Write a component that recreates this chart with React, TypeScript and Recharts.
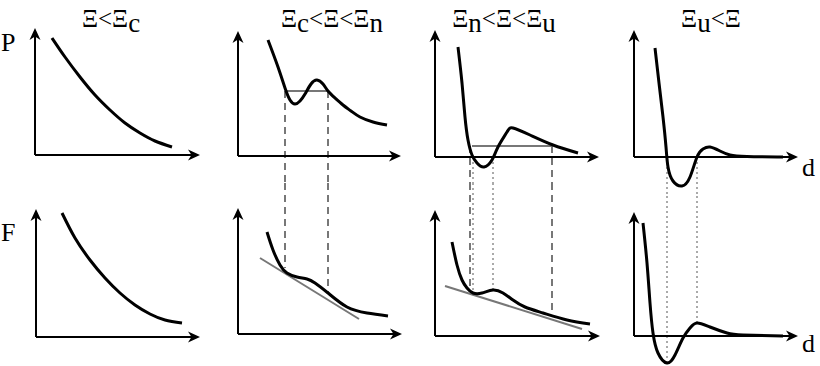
import { Line, LineChart, ReferenceDot, ReferenceLine, XAxis, YAxis } from "recharts";

type Pt = { x: number; y: number };
type Seg = { x1: number; y1: number; x2: number; y2: number };

// curves, 1 unit = 10px, origin at the axes crossing
const pLow: Pt[] = [
  { x: 1.7, y: 11.7 }, { x: 3.0, y: 9.8 }, { x: 4.5, y: 7.8 }, { x: 6.0, y: 6.0 },
  { x: 7.5, y: 4.5 }, { x: 9.0, y: 3.2 }, { x: 10.5, y: 2.2 }, { x: 12.0, y: 1.4 },
  { x: 13.7, y: 0.8 },
];
const fLow: Pt[] = [
  { x: 2.6, y: 12.4 }, { x: 3.9, y: 9.9 }, { x: 5.4, y: 7.7 }, { x: 6.9, y: 5.9 },
  { x: 8.4, y: 4.4 }, { x: 9.9, y: 3.2 }, { x: 11.4, y: 2.3 }, { x: 12.9, y: 1.7 },
  { x: 14.6, y: 1.4 },
];
const pCn: Pt[] = [
  { x: 3.0, y: 11.6 }, { x: 4.0, y: 8.9 }, { x: 4.7, y: 6.8 }, { x: 5.2, y: 5.6 },
  { x: 5.7, y: 5.2 }, { x: 6.2, y: 5.5 }, { x: 6.7, y: 6.2 }, { x: 7.3, y: 7.2 },
  { x: 7.9, y: 7.6 }, { x: 8.5, y: 7.2 }, { x: 9.0, y: 6.5 }, { x: 9.7, y: 5.8 },
  { x: 10.5, y: 5.1 }, { x: 11.3, y: 4.5 }, { x: 12.2, y: 3.9 }, { x: 13.5, y: 3.4 },
  { x: 14.9, y: 3.1 },
];
const fCn: Pt[] = [
  { x: 2.9, y: 10.2 }, { x: 3.5, y: 8.4 }, { x: 4.2, y: 6.9 }, { x: 4.9, y: 6.1 },
  { x: 5.9, y: 5.7 }, { x: 6.9, y: 5.5 }, { x: 7.7, y: 5.1 }, { x: 9.0, y: 4.1 },
  { x: 10.9, y: 2.7 }, { x: 12.9, y: 2.1 }, { x: 15.0, y: 1.8 },
];
const pNu: Pt[] = [
  { x: 2.3, y: 11.0 }, { x: 2.7, y: 7.4 }, { x: 3.0, y: 4.0 }, { x: 3.3, y: 1.7 },
  { x: 3.7, y: 0.2 }, { x: 4.2, y: -0.6 }, { x: 4.9, y: -1.0 }, { x: 5.7, y: -0.3 },
  { x: 6.3, y: 1.0 }, { x: 7.2, y: 2.5 }, { x: 7.8, y: 2.9 }, { x: 9.5, y: 2.2 },
  { x: 11.8, y: 1.2 }, { x: 14.3, y: 0.4 },
];
const fNu: Pt[] = [
  { x: 1.7, y: 9.4 }, { x: 2.2, y: 7.1 }, { x: 2.7, y: 5.6 }, { x: 3.2, y: 4.8 },
  { x: 3.8, y: 4.3 }, { x: 4.7, y: 4.3 }, { x: 5.8, y: 4.6 }, { x: 6.8, y: 4.3 },
  { x: 7.8, y: 3.6 }, { x: 9.0, y: 2.9 }, { x: 10.8, y: 2.3 }, { x: 13.2, y: 1.6 },
  { x: 15.5, y: 1.2 },
];
const pHigh: Pt[] = [
  { x: 2.1, y: 10.9 }, { x: 2.5, y: 7.4 }, { x: 2.9, y: 4.0 }, { x: 3.2, y: 1.0 },
  { x: 3.4, y: -1.0 }, { x: 3.9, y: -2.4 }, { x: 4.8, y: -2.9 }, { x: 5.6, y: -2.0 },
  { x: 6.3, y: 0.0 }, { x: 6.9, y: 0.8 }, { x: 7.6, y: 1.0 }, { x: 8.6, y: 0.6 },
  { x: 9.6, y: 0.2 }, { x: 11.3, y: 0.05 }, { x: 14.9, y: 0 },
];
const fHigh: Pt[] = [
  { x: 0.9, y: 11.3 }, { x: 1.3, y: 7.3 }, { x: 1.6, y: 3.3 }, { x: 1.9, y: 0.3 },
  { x: 2.4, y: -1.7 }, { x: 3.3, y: -2.7 }, { x: 4.1, y: -1.9 }, { x: 4.9, y: -0.2 },
  { x: 5.6, y: 0.8 }, { x: 6.3, y: 1.3 }, { x: 7.6, y: 0.9 }, { x: 9.3, y: 0.3 },
  { x: 10.9, y: 0.1 }, { x: 14.9, y: 0 },
];

// equal-area lines, tangents
const maxwellCn: Seg[] = [{ x1: 4.7, y1: 6.5, x2: 9.0, y2: 6.5 }];
const maxwellNu: Seg[] = [{ x1: 3.7, y1: 1.1, x2: 11.8, y2: 1.1 }];
const tangentCn: Seg[] = [{ x1: 2.2, y1: 7.6, x2: 12.1, y2: 1.5 }];
const tangentNu: Seg[] = [{ x1: 1.0, y1: 5.0, x2: 14.7, y2: 0.7 }];

// vertical guides: x, value where it meets the curve
const dashCnP = [{ x: 4.7, y: 6.5 }, { x: 9.0, y: 6.5 }];
const dashCnF = [{ x: 4.7, y: 6.6 }, { x: 9.0, y: 4.1 }];
const dashNuP = [{ x: 3.5, y: 1.1 }, { x: 11.7, y: 1.1 }];
const dashNuF = [{ x: 3.5, y: 4.6 }, { x: 11.7, y: 1.9 }];
const dotNuP = [{ x: 3.8, y: 0 }, { x: 5.8, y: 0 }];
const dotNuF = [{ x: 3.8, y: 4.3 }, { x: 5.8, y: 4.6 }];
const dotHighP = [{ x: 3.3, y: 0 }, { x: 6.3, y: 0 }];
const dotHighF = [{ x: 3.3, y: -2.7 }, { x: 6.3, y: 1.3 }];

type Guide = { x: number; y: number };
type PanelProps = {
  cellTop: number;
  cellH: number;
  x0: number;
  axisY: number;
  tip: number;
  topTip: number;
  curve: Pt[];
  segs?: Seg[];
  dashed?: Guide[];
  dotted?: Guide[];
  upper: boolean;
};

function ArrowHead(props: any) {
  const { cx, cy, dir } = props;
  if (cx == null || cy == null) return null;
  const pts =
    dir === "right"
      ? `${cx},${cy} ${cx - 12},${cy - 5.5} ${cx - 8.5},${cy} ${cx - 12},${cy + 5.5}`
      : `${cx},${cy} ${cx - 5.5},${cy + 12} ${cx},${cy + 8.5} ${cx + 5.5},${cy + 12}`;
  return <polygon points={pts} fill="#000" />;
}

function Panel({ cellTop, cellH, x0, axisY, tip, topTip, curve, segs, dashed, dotted, upper }: PanelProps) {
  const left = x0 - 20;
  const width = tip - x0 + 30;
  const xLo = -2;
  const xHi = (tip - x0 + 10) / 10;
  const yHi = (axisY - cellTop) / 10;
  const yLo = -(cellTop + cellH - axisY) / 10;
  const xLen = (tip - x0) / 10;
  const yLen = (axisY - topTip) / 10;

  const guide = (g: Guide) =>
    upper ? [{ x: g.x, y: g.y }, { x: g.x, y: yLo }] : [{ x: g.x, y: yHi }, { x: g.x, y: g.y }];

  return (
    <div style={{ position: "absolute", left, top: cellTop }}>
      <LineChart width={width} height={cellH} margin={{ top: 0, right: 0, bottom: 0, left: 0 }}>
        <XAxis type="number" dataKey="x" domain={[xLo, xHi]} hide allowDataOverflow />
        <YAxis type="number" domain={[yLo, yHi]} hide allowDataOverflow />
        {(dotted ?? []).map((g, i) => (
          <ReferenceLine
            key={`dot-${i}`}
            segment={guide(g)}
            stroke="#aaa"
            strokeWidth={2}
            strokeDasharray="2 3"
            ifOverflow="visible"
          />
        ))}
        {(dashed ?? []).map((g, i) => (
          <ReferenceLine
            key={`dash-${i}`}
            segment={guide(g)}
            stroke="#777"
            strokeWidth={2}
            strokeDasharray="7 5"
            ifOverflow="visible"
          />
        ))}
        {(segs ?? []).map((s, i) => (
          <ReferenceLine
            key={`seg-${i}`}
            segment={[{ x: s.x1, y: s.y1 }, { x: s.x2, y: s.y2 }]}
            stroke="#777"
            strokeWidth={2}
            ifOverflow="visible"
          />
        ))}
        <ReferenceLine segment={[{ x: 0, y: 0 }, { x: xLen - 0.6, y: 0 }]} stroke="#000" strokeWidth={2} ifOverflow="visible" />
        <ReferenceLine segment={[{ x: 0, y: 0 }, { x: 0, y: yLen - 0.6 }]} stroke="#000" strokeWidth={2} ifOverflow="visible" />
        <ReferenceDot x={xLen} y={0} ifOverflow="visible" shape={(p: any) => <ArrowHead {...p} dir="right" />} />
        <ReferenceDot x={0} y={yLen} ifOverflow="visible" shape={(p: any) => <ArrowHead {...p} dir="up" />} />
        <Line
          data={curve}
          dataKey="y"
          type="natural"
          stroke="#000"
          strokeWidth={3}
          dot={false}
          activeDot={false}
          isAnimationActive={false}
        />
      </LineChart>
    </div>
  );
}

const serif = "'Liberation Serif', 'DejaVu Serif', serif";

function Title({ cx, parts }: { cx: number; parts: Array<[string, boolean]> }) {
  return (
    <div
      style={{
        position: "absolute",
        left: cx - 100,
        top: 6,
        width: 200,
        textAlign: "center",
        fontFamily: serif,
        fontSize: 25,
        lineHeight: "25px",
        whiteSpace: "nowrap",
      }}
    >
      {parts.map(([t, sub], i) => (
        <span key={i} style={sub ? { position: "relative", top: 5, fontSize: 27 } : undefined}>
          {t}
        </span>
      ))}
    </div>
  );
}

function Letter({ x, y, t }: { x: number; y: number; t: string }) {
  return (
    <div style={{ position: "absolute", left: x, top: y, fontFamily: serif, fontSize: 26, lineHeight: "26px" }}>{t}</div>
  );
}

export default function App() {
  return (
    <div style={{ position: "absolute", left: 0, top: 0, width: 820, height: 366, background: "#fff", overflow: "hidden" }}>
      <Panel cellTop={0} cellH={183} x0={35} axisY={155} tip={200} topTip={28} curve={pLow} upper />
      <Panel cellTop={183} cellH={183} x0={36} axisY={337} tip={200} topTip={209} curve={fLow} upper={false} />
      <Panel cellTop={0} cellH={183} x0={238} axisY={156} tip={401} topTip={31} curve={pCn} segs={maxwellCn} dashed={dashCnP} upper />
      <Panel
        cellTop={183}
        cellH={183}
        x0={238}
        axisY={334}
        tip={402}
        topTip={208}
        curve={fCn}
        segs={tangentCn}
        dashed={dashCnF}
        upper={false}
      />
      <Panel
        cellTop={0}
        cellH={183}
        x0={435}
        axisY={157}
        tip={599}
        topTip={30}
        curve={pNu}
        segs={maxwellNu}
        dashed={dashNuP}
        dotted={dotNuP}
        upper
      />
      <Panel
        cellTop={183}
        cellH={183}
        x0={435}
        axisY={336}
        tip={600}
        topTip={210}
        curve={fNu}
        segs={tangentNu}
        dashed={dashNuF}
        dotted={dotNuF}
        upper={false}
      />
      <Panel cellTop={0} cellH={196} x0={634} axisY={157} tip={798} topTip={30} curve={pHigh} dotted={dotHighP} upper />
      <Panel cellTop={196} cellH={170} x0={634} axisY={336} tip={798} topTip={212} curve={fHigh} dotted={dotHighF} upper={false} />

      <Title cx={111} parts={[["Ξ<Ξ", false], ["c", true]]} />
      <Title cx={332} parts={[["Ξ", false], ["c", true], ["<Ξ<Ξ", false], ["n", true]]} />
      <Title cx={504} parts={[["Ξ", false], ["n", true], ["<Ξ<Ξ", false], ["u", true]]} />
      <Title cx={711} parts={[["Ξ", false], ["u", true], ["<Ξ", false]]} />

      <Letter x={1} y={30} t="P" />
      <Letter x={1} y={220} t="F" />
      <Letter x={802} y={155} t="d" />
      <Letter x={802} y={331} t="d" />
    </div>
  );
}
